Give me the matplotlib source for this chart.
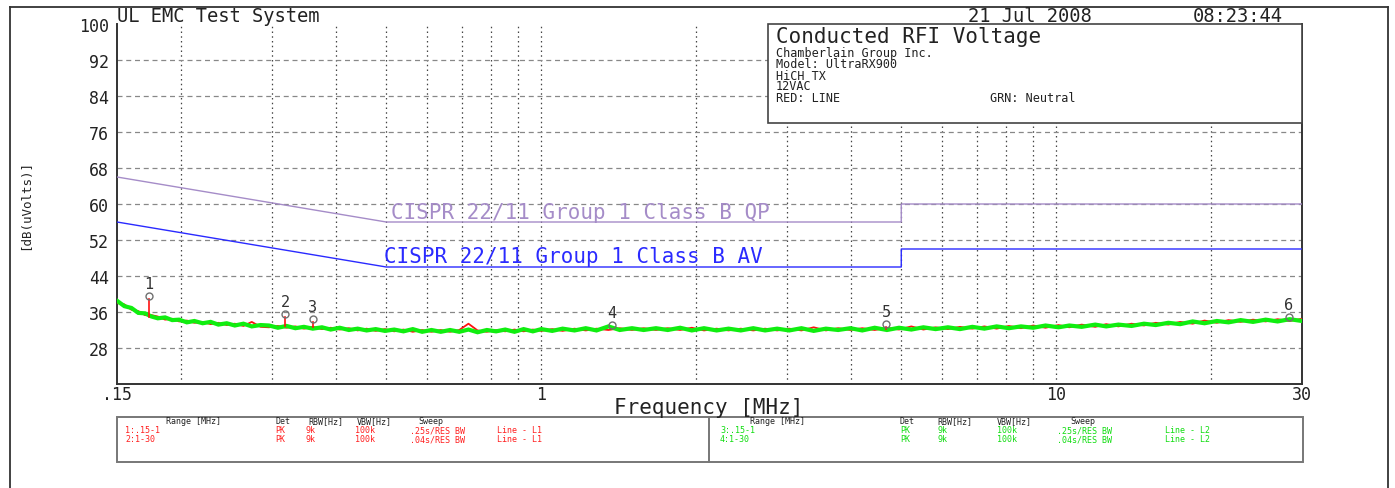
import matplotlib.pyplot as plt
from matplotlib.patches import Rectangle
from matplotlib.lines import Line2D

# sweep points [MHz] and measured levels [dB(uV)]
freq = [0.150, 0.155, 0.160, 0.165, 0.170, 0.175, 0.180, 0.186, 0.192, 0.198,
        0.205, 0.212, 0.220, 0.228, 0.236, 0.245, 0.254, 0.264, 0.274, 0.285,
        0.296, 0.308, 0.320, 0.333, 0.346, 0.360, 0.375, 0.390, 0.406, 0.423,
        0.440, 0.458, 0.477, 0.497, 0.518, 0.540, 0.563, 0.587, 0.612, 0.638,
        0.665, 0.693, 0.722, 0.752, 0.784, 0.817, 0.851, 0.887, 0.924, 0.963,
        1.00, 1.05, 1.10, 1.16, 1.22, 1.28, 1.35, 1.42, 1.50, 1.58,
        1.67, 1.76, 1.86, 1.96, 2.07, 2.19, 2.31, 2.44, 2.58, 2.72,
        2.87, 3.03, 3.20, 3.38, 3.57, 3.77, 3.98, 4.20, 4.44, 4.69,
        4.95, 5.23, 5.52, 5.83, 6.16, 6.50, 6.87, 7.25, 7.66, 8.09,
        8.54, 9.02, 9.53, 10.1, 10.6, 11.2, 11.9, 12.5, 13.2, 14.0,
        14.8, 15.6, 16.5, 17.4, 18.4, 19.4, 20.5, 21.6, 22.8, 24.1,
        25.5, 26.9, 28.4, 30.0]

# RED: line L1
line_l1 = [38.0, 37.7, 36.5, 36.2, 35.3, 35.3, 35.0, 34.3, 34.5, 33.9,
           34.1, 33.6, 33.8, 33.3, 33.6, 33.1, 33.4, 32.9, 33.8, 32.7,
           32.6, 32.9, 32.5, 32.8, 32.3, 32.7, 32.2, 32.5, 32.1, 32.4,
           31.9, 32.3, 31.8, 32.2, 31.7, 32.1, 31.6, 32.0, 31.6, 32.0,
           31.6, 32.0, 33.4, 31.9, 31.6, 32.0, 31.7, 32.1, 31.7, 32.1,
           31.8, 32.2, 31.8, 32.3, 31.9, 32.3, 32.0, 32.4, 32.0, 32.4,
           32.0, 32.4, 32.0, 32.5, 31.9, 32.3, 31.9, 32.3, 31.9, 32.3,
           31.9, 32.3, 31.9, 32.6, 31.9, 32.4, 32.0, 32.4, 32.0, 32.5,
           32.1, 32.8, 32.1, 32.6, 32.2, 32.7, 32.3, 32.8, 32.3, 32.9,
           32.4, 33.0, 32.5, 33.1, 32.6, 33.2, 32.7, 33.3, 32.8, 33.4,
           33.0, 33.6, 33.2, 33.8, 33.4, 34.1, 33.6, 34.2, 33.8, 34.3,
           33.9, 34.4, 34.0, 34.5]

# GRN: neutral L2
line_l2 = [38.5, 37.3, 36.9, 35.8, 35.7, 35.0, 34.6, 34.8, 34.2, 34.3,
           33.7, 34.0, 33.5, 33.8, 33.2, 33.5, 33.0, 33.4, 32.8, 33.1,
           33.0, 32.5, 32.9, 32.4, 32.7, 32.3, 32.6, 32.1, 32.5, 32.0,
           32.3, 31.9, 32.2, 31.8, 32.1, 31.7, 32.2, 31.6, 32.0, 31.6,
           32.0, 31.6, 32.1, 31.5, 32.0, 31.7, 32.1, 31.6, 32.2, 31.7,
           32.2, 31.8, 32.3, 31.9, 32.4, 31.9, 32.8, 32.0, 32.4, 32.0,
           32.4, 32.0, 32.5, 31.9, 32.4, 31.9, 32.3, 31.9, 32.4, 31.9,
           32.3, 31.9, 32.4, 31.8, 32.3, 32.0, 32.4, 31.9, 32.5, 32.0,
           32.5, 32.1, 32.6, 32.2, 32.6, 32.2, 32.7, 32.3, 32.8, 32.4,
           32.8, 32.5, 33.0, 32.6, 33.0, 32.7, 33.2, 32.8, 33.2, 32.9,
           33.4, 33.1, 33.6, 33.3, 33.9, 33.5, 34.0, 33.7, 34.2, 33.8,
           34.3, 33.9, 34.4, 34.0]

# CISPR 22 class B limits
lim_freq = [0.15, 0.5, 5, 5, 30]
qp_limit = [66, 56, 56, 60, 60]
av_limit = [56, 46, 46, 50, 50]

# peak markers
mk_freq = [0.173, 0.318, 0.36, 1.37, 4.67, 28.3]
mk_level = [39.6, 35.5, 34.4, 33.1, 33.3, 34.9]
mk_base = [34.8, 33.0, 32.7, 32.4, 32.3, 34.3]
mk_names = ["1", "2", "3", "4", "5", "6"]

y_ticks = [28, 36, 44, 52, 60, 68, 76, 84, 92, 100]
x_ticks = [0.15, 1, 10, 30]
x_labels = [".15", "1", "10", "30"]
x_grid = [0.2, 0.3, 0.4, 0.5, 0.6, 0.7, 0.8, 0.9, 1, 2, 3, 4, 5, 6, 7, 8, 9, 10, 20]

W, H = 1395, 489
plt.rcParams['font.family'] = "DejaVu Sans Mono"
INK = "#222222"


def px(x, y):
    return x / W, 1 - y / H


fig = plt.figure(figsize=(W / 100, H / 100), dpi=100)
ax = fig.add_axes([117 / W, 104 / H, 1185 / W, 360 / H])
ax.set_xscale("log")
ax.set_xlim(0.15, 30)
ax.set_ylim(20, 100)

for f in x_grid:
    ax.axvline(f, color="#444444", lw=0.9, ls=(0, (1.2, 2.6)), zorder=1)
for y in y_ticks[:-1]:
    ax.axhline(y, color="#888888", lw=0.9, ls=(0, (4, 3)), zorder=1)

ax.set_yticks(y_ticks)
ax.set_yticklabels([str(v) for v in y_ticks])
ax.set_xticks(x_ticks)
ax.set_xticklabels(x_labels)
ax.minorticks_off()
ax.tick_params(length=0, labelsize=12, colors=INK)
ax.tick_params(axis="y", pad=6)
ax.tick_params(axis="x", pad=1)
for s in ["left", "bottom", "right"]:
    ax.spines[s].set_color("#333333")
    ax.spines[s].set_linewidth(1.4)
ax.spines["top"].set_visible(False)

# limit lines
ax.plot(lim_freq, qp_limit, color="#a58cc8", lw=1.0, zorder=3)
ax.plot(lim_freq, av_limit, color="#2a2aff", lw=1.0, zorder=3)
ax.text(0.51, 58.3, "CISPR 22/11 Group 1 Class B QP", color="#a58cc8",
        fontsize=15, va="center", ha="left")
ax.text(0.495, 48.4, "CISPR 22/11 Group 1 Class B AV", color="#2a2aff",
        fontsize=15, va="center", ha="left")

# traces
ax.plot(freq, line_l1, color="#ff1010", lw=1.3, zorder=4)
ax.plot(freq, line_l2, color="#10ee10", lw=3.0, zorder=5, solid_joinstyle="miter")

# markers
for f, lv, b, n in zip(mk_freq, mk_level, mk_base, mk_names):
    ax.plot([f, f], [b, lv - 0.6], color="#ff1010", lw=1.2, zorder=6)
    ax.plot(f, lv, marker="o", ms=5, mfc="none", mec="#707070", mew=1.0, zorder=7)
    ax.annotate(n, (f, lv), xytext=(0, 9), textcoords="offset points",
                ha="center", va="center", fontsize=11, color="#333333", zorder=7)

# info box
box = Rectangle((651 / 1185, 261 / 360), 534 / 1185, 99 / 360, transform=ax.transAxes,
                facecolor="white", edgecolor="#444444", lw=1.2, zorder=8, clip_on=False)
ax.add_patch(box)
fig.text(*px(776, 37), "Conducted RFI Voltage", fontsize=15, va="center", color=INK)
info_lines = ["Chamberlain Group Inc.", "Model: UltraRX900", "HiCH TX", "12VAC", "RED: LINE"]
info_y = [53, 65, 76, 87, 99]
for t, yy in zip(info_lines, info_y):
    fig.text(*px(776, yy), t, fontsize=8.5, va="center", color=INK)
fig.text(*px(990, 99), "GRN: Neutral", fontsize=8.5, va="center", color=INK)

# header
fig.text(*px(117, 17), "UL EMC Test System", fontsize=13.5, va="center", color=INK)
fig.text(*px(1030, 17), "21 Jul 2008", fontsize=13.5, va="center", ha="center", color=INK)
fig.text(*px(1238, 17), "08:23:44", fontsize=13.5, va="center", ha="center", color=INK)

fig.text(*px(709, 408), "Frequency [MHz]", fontsize=15, va="center", ha="center", color=INK)
fig.text(*px(26, 205), "[dB(uVolts)]", fontsize=9, va="center", ha="center",
         rotation=90, color=INK)

# outer frame
for xs, ys in [([10, 10], [489, 8]), ([10, 1388], [8, 8]), ([1388, 1388], [8, 489])]:
    fig.add_artist(Line2D([x / W for x in xs], [1 - y / H for y in ys],
                          color="#333333", lw=1.3))

# settings table
fig.add_artist(Rectangle(px(117, 463), 1186 / W, 45 / H, transform=fig.transFigure,
                         facecolor="none", edgecolor="#777777", lw=1.4))
fig.add_artist(Line2D([709 / W, 709 / W], [1 - 418 / H, 1 - 463 / H], color="#777777", lw=1.4))

heads = ["Range [MHz]", "Det", "RBW[Hz]", "VBW[Hz]", "Sweep"]
left_head_x = [166, 275, 308, 357, 418]
right_head_x = [750, 900, 937, 997, 1070]
rows_l1 = [["1:.15-1", "PK", "9k", "100k", ".25s/RES BW", "Line - L1"],
           ["2:1-30", "PK", "9k", "100k", ".04s/RES BW", "Line - L1"]]
rows_l2 = [["3:.15-1", "PK", "9k", "100k", ".25s/RES BW", "Line - L2"],
           ["4:1-30", "PK", "9k", "100k", ".04s/RES BW", "Line - L2"]]
left_row_x = [125, 275, 305, 355, 410, 497]
right_row_x = [720, 900, 937, 997, 1057, 1165]

for h, xl, xr in zip(heads, left_head_x, right_head_x):
    fig.text(*px(xl, 422), h, fontsize=6, va="center", color=INK)
    fig.text(*px(xr, 422), h, fontsize=6, va="center", color=INK)
for r, yy in zip(range(2), [431, 440]):
    for t, xx in zip(rows_l1[r], left_row_x):
        fig.text(*px(xx, yy), t, fontsize=6, va="center", color="#ff2020")
    for t, xx in zip(rows_l2[r], right_row_x):
        fig.text(*px(xx, yy), t, fontsize=6, va="center", color="#10dd10")

fig.savefig("out.png", dpi=100)
